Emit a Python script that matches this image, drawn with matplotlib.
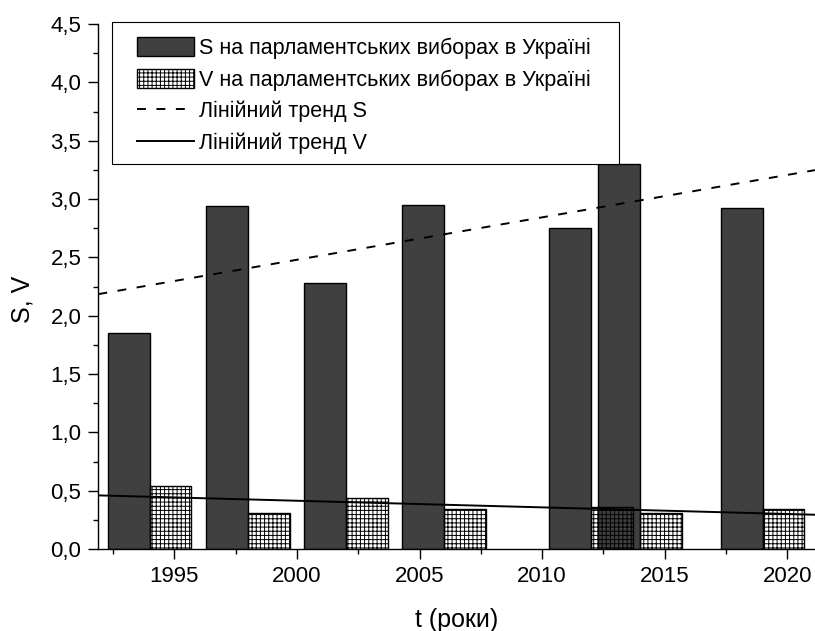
import numpy as np
import matplotlib
matplotlib.use("Agg")
import matplotlib.pyplot as plt
from matplotlib.ticker import MultipleLocator, FuncFormatter
from matplotlib.patches import Rectangle

# election years and indices
years = [1994, 1998, 2002, 2006, 2012, 2014, 2019]
s_vals = [1.85, 2.94, 2.28, 2.95, 2.75, 3.30, 2.92]
v_vals = [0.54, 0.31, 0.44, 0.34, 0.36, 0.31, 0.34]

labels = [
    "S на парламентських виборах в Україні",
    "V на парламентських виборах в Україні",
    "Лінійний тренд S",
    "Лінійний тренд V",
]

plt.rcParams["font.family"] = ["Liberation Sans", "DejaVu Sans"]
plt.rcParams["hatch.linewidth"] = 0.7

fig = plt.figure(figsize=(8.15, 6.31), dpi=100)
ax = fig.add_axes([98.3 / 815, 1 - 549 / 631, (815 - 98.3) / 815, 525 / 631])

bw = 1.7
b1 = ax.bar(years, s_vals, width=-bw, align="edge", color="#404040",
            edgecolor="black", linewidth=1.0, zorder=2)
b2 = ax.bar(years, v_vals, width=bw, align="edge", facecolor="none",
            edgecolor="black", hatch="++++", linewidth=1.0, zorder=3)

# linear trends over the whole axis range
xlim = (1991.9, 2021.13)
xx = np.array(xlim)
ps = np.polyfit(years, s_vals, 1)
pv = np.polyfit(years, v_vals, 1)
l1, = ax.plot(xx, np.polyval(ps, xx), color="black", lw=1.4,
              dashes=(4.6, 5.4), zorder=4)
l2, = ax.plot(xx, np.polyval(pv, xx), color="black", lw=1.4, zorder=4)

ax.set_xlim(*xlim)
ax.set_ylim(0, 4.5)

ax.xaxis.set_major_locator(MultipleLocator(5))
ax.xaxis.set_minor_locator(MultipleLocator(2.5))
ax.yaxis.set_major_locator(MultipleLocator(0.5))
ax.yaxis.set_minor_locator(MultipleLocator(0.25))
ax.yaxis.set_major_formatter(FuncFormatter(lambda v, p: f"{v:.1f}".replace(".", ",")))
ax.xaxis.set_major_formatter(FuncFormatter(lambda v, p: f"{int(v)}"))

ax.tick_params(which="major", direction="out", length=7.2, width=1.0,
               labelsize=16, pad=5)
ax.tick_params(which="minor", direction="out", length=3.6, width=1.0)
for side in ["top", "right"]:
    ax.spines[side].set_visible(False)
for side in ["left", "bottom"]:
    ax.spines[side].set_linewidth(1.0)

ax.set_xlabel("t (роки)", fontsize=18)
ax.xaxis.set_label_coords(0.5, -0.135)
ax.xaxis.label.set_va("center")
ax.set_ylabel("S, V", fontsize=18)
ax.yaxis.set_label_coords(-0.1058, 0.476)
ax.yaxis.label.set_va("center")

# legend box drawn by hand
fig.patches.append(Rectangle((112 / 815, 1 - 163.7 / 631), 507 / 815, 142 / 631,
                             transform=fig.transFigure, facecolor="white",
                             edgecolor="black", linewidth=0.8, zorder=5))
leg = fig.legend([b1, b2, l1, l2], labels, loc="upper left",
                 bbox_to_anchor=(137.3 / 815, 1 - 37.0 / 631),
                 frameon=False, fontsize=15.5, borderpad=0, borderaxespad=0,
                 handlelength=2.65, handleheight=1.0, handletextpad=0.2,
                 labelspacing=0.45)
leg.set_zorder(6)

fig.savefig("out.png", dpi=100)
